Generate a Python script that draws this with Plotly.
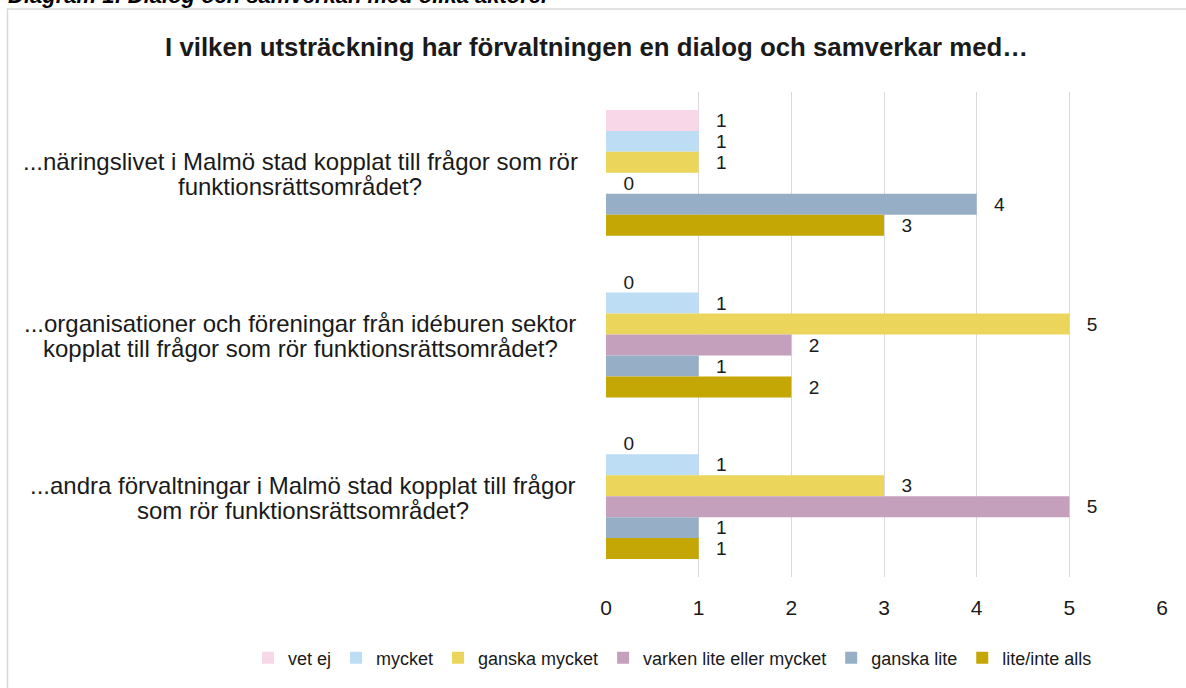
import plotly.graph_objects as go

categories = [
    "...näringslivet i Malmö stad kopplat till frågor som rör funktionsrättsområdet?",
    "...organisationer och föreningar från idéburen sektor kopplat till frågor som rör funktionsrättsområdet?",
    "...andra förvaltningar i Malmö stad kopplat till frågor som rör funktionsrättsområdet?",
]
category_lines = [
    ["...näringslivet i Malmö stad kopplat till frågor som rör", "funktionsrättsområdet?"],
    ["...organisationer och föreningar från idéburen sektor", "kopplat till frågor som rör funktionsrättsområdet?"],
    ["...andra förvaltningar i Malmö stad kopplat till frågor", "som rör funktionsrättsområdet?"],
]
series_names = ["vet ej", "mycket", "ganska mycket", "varken lite eller mycket", "ganska lite", "lite/inte alls"]
vet_ej = [1, 0, 0]
mycket = [1, 1, 1]
ganska_mycket = [1, 5, 3]
varken = [0, 2, 5]
ganska_lite = [4, 1, 1]
lite_inte_alls = [3, 2, 1]
x_ticks = [0, 1, 2, 3, 4, 5, 6]

values = [vet_ej, mycket, ganska_mycket, varken, ganska_lite, lite_inte_alls]
colors = ["#F8D7E8", "#BDDDF4", "#EBD55A", "#C5A0BD", "#97AFC6", "#C4A605"]

FONT = "Liberation Sans, Arial, sans-serif"
W, H = 1186, 688
L, R, T, B = 606, 1162, 92, 577

fig = go.Figure()
for name, vals, col in zip(series_names, values, colors):
    fig.add_trace(go.Bar(
        y=categories, x=vals, name=name, orientation="h",
        marker=dict(color=col, line=dict(width=0)),
        text=vals, texttemplate="  \u2009%{x}", textposition="outside",
        textfont=dict(size=20, color="#1a1a1a", family=FONT),
        cliponaxis=False,
    ))

def px_to_paper_x(px):
    return (px - L) / (R - L)

def px_to_paper_y(py):
    return (B - py) / (B - T)

label_centers_px = [300, 300, 303]
annotations = []
for c, lines, cx in zip(categories, category_lines, label_centers_px):
    for line, ys in zip(lines, [11, -14]):
        annotations.append(dict(
            x=px_to_paper_x(cx), xref="paper", y=c, yref="y", text=line, showarrow=False,
            xanchor="center", yanchor="middle", yshift=ys,
            font=dict(size=24, color="#1a1a1a", family=FONT),
        ))
annotations.append(dict(
    x=px_to_paper_x(6), xref="paper", y=px_to_paper_y(-5), yref="paper",
    text="<b><i>Diagram 1: Dialog och samverkan med olika aktörer</i></b>",
    showarrow=False, xanchor="left", yanchor="middle",
    font=dict(size=22, color="#000000", family=FONT),
))

fig.update_layout(
    width=W, height=H,
    margin=dict(l=L, r=W - R, t=T, b=H - B, pad=0),
    paper_bgcolor="white", plot_bgcolor="white",
    barmode="group", bargap=0.222, bargroupgap=0,
    title=dict(
        text="<b>I vilken utsträckning har förvaltningen en dialog och samverkar med…</b>",
        x=0.503, xref="container", xanchor="center",
        y=1 - 47 / H, yref="container", yanchor="middle",
        font=dict(size=25.8, color="#1a1a1a", family=FONT),
    ),
    xaxis=dict(
        range=[0, 6], tickvals=x_ticks, showgrid=True, gridcolor="#D9D9D9", gridwidth=1,
        zeroline=False, showline=False, ticks="", ticklabelstandoff=16,
        tickfont=dict(size=21, color="#1a1a1a", family=FONT),
    ),
    yaxis=dict(
        autorange="reversed", showticklabels=False, showgrid=False, zeroline=False,
        showline=False, ticks="",
    ),
    legend=dict(
        orientation="h", xref="paper", x=px_to_paper_x(248), xanchor="left",
        yref="paper", y=px_to_paper_y(658), yanchor="middle",
        font=dict(size=18, color="#1a1a1a", family=FONT),
        traceorder="normal", itemwidth=30,
    ),
    annotations=annotations,
    shapes=[dict(
        type="rect", xref="paper", yref="paper",
        x0=px_to_paper_x(7.5), x1=px_to_paper_x(W + 5),
        y0=px_to_paper_y(H + 5), y1=px_to_paper_y(9),
        line=dict(color="#D9D9D9", width=1.5), fillcolor="rgba(0,0,0,0)",
        layer="below",
    )],
    showlegend=True,
)

fig.write_html("out.html", config={"displayModeBar": False},
               post_script="document.body.style.margin='0';")
